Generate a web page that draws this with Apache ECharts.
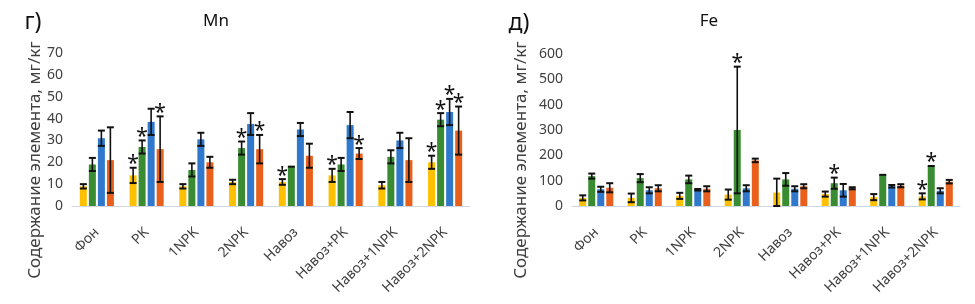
<!DOCTYPE html>
<html>
<head>
<meta charset="utf-8">
<script src="https://cdn.jsdelivr.net/npm/echarts@6/dist/echarts.min.js"></script>
<style>
  html, body { margin: 0; padding: 0; background: #fff; }
  #chart { width: 975px; height: 304px; }
</style>
</head>
<body>
<div id="chart"></div>
<script>
// categories
const categories = ['Фон', 'PK', '1NPK', '2NPK', 'Навоз', 'Навоз+PK', 'Навоз+1NPK', 'Навоз+2NPK'];
const mnTicks = [0, 10, 20, 30, 40, 50, 60, 70];
const feTicks = [0, 100, 200, 300, 400, 500, 600];

// Mn, мг/кг
const mnYellow = [9, 14, 9, 11, 11, 14, 9.5, 20];
const mnYellowErr = [1, 3.5, 1, 1, 1.3, 3, 1.5, 3];
const mnGreen = [19, 27, 16.5, 26.5, 18, 19, 22.5, 39.5];
const mnGreenErr = [3, 3, 3, 3, 0, 3, 3, 3];
const mnBlue = [31, 38.5, 30.5, 37.5, 35, 37, 30, 43];
const mnBlueErr = [3.5, 6, 3, 5, 3, 6, 3.5, 6];
const mnOrange = [21, 26, 20, 26, 23, 24, 21, 34.5];
const mnOrangeErr = [15, 15, 2.5, 6.5, 5.5, 2.5, 10, 11];
const mnYellowStar = [0, 1, 0, 0, 1, 1, 0, 1];
const mnGreenStar = [0, 1, 0, 1, 0, 0, 0, 1];
const mnBlueStar = [0, 0, 0, 0, 0, 0, 0, 1];
const mnOrangeStar = [0, 1, 0, 1, 0, 1, 0, 1];

// Fe, мг/кг
const feYellow = [32, 32, 40, 45, 53, 47, 35, 38];
const feYellowErr = [10, 17, 12, 20, 55, 10, 12, 12];
const feGreen = [118, 110, 105, 300, 105, 90, 123, 158];
const feGreenErr = [10, 16, 15, 250, 25, 22, 0, 0];
const feBlue = [66, 62, 64, 70, 68, 62, 78, 60];
const feBlueErr = [10, 12, 3, 12, 10, 25, 5, 10];
const feOrange = [72, 70, 68, 180, 78, 70, 80, 96];
const feOrangeErr = [18, 12, 10, 7, 8, 4, 6, 7];
const feYellowStar = [0, 0, 0, 0, 0, 0, 0, 1];
const feGreenStar = [0, 0, 0, 1, 0, 1, 0, 1];
const feBlueStar = [0, 0, 0, 0, 0, 0, 0, 0];
const feOrangeStar = [0, 0, 0, 0, 0, 0, 0, 0];

const colors = ['#FFC000', '#3A8C32', '#2F78CC', '#E8601C'];
const FONT = 'Noto Sans';
const BAR_W = 7;
const PITCH = 9;

var dom = document.getElementById('chart');
var myChart = echarts.init(dom, null, { renderer: 'canvas' });

function barSeries(values, idx, axis) {
  return {
    type: 'bar',
    xAxisIndex: axis,
    yAxisIndex: axis,
    barWidth: BAR_W,
    barGap: '29%',
    data: values,
    itemStyle: { color: colors[idx] },
    z: 2
  };
}

// error bars + significance stars, drawn over the bars
function errSeries(values, errs, stars, idx, axis) {
  var offset = (idx - 1.5) * PITCH;
  return {
    type: 'custom',
    xAxisIndex: axis,
    yAxisIndex: axis,
    z: 5,
    encode: { x: 0, y: 1 },
    data: values.map(function (v, i) { return [i, v, errs[i], stars[i]]; }),
    renderItem: function (params, api) {
      var c = api.value(0), v = api.value(1), e = api.value(2), s = api.value(3);
      var x = api.coord([c, v])[0] + offset;
      var yv = api.coord([c, v])[1];
      var yt = api.coord([c, v + e])[1];
      var yb = api.coord([c, Math.max(0, v - e)])[1];
      var st = { stroke: '#111', lineWidth: 2 };
      var kids = [];
      if (e > 0) {
        kids.push({ type: 'line', shape: { x1: x, y1: yt, x2: x, y2: yb }, style: { stroke: '#111', lineWidth: 1.6 } });
        kids.push({ type: 'line', shape: { x1: x - 3.5, y1: yt, x2: x + 3.5, y2: yt }, style: st });
        kids.push({ type: 'line', shape: { x1: x - 3.5, y1: yb, x2: x + 3.5, y2: yb }, style: st });
      } else {
        kids.push({ type: 'line', shape: { x1: x - 3.5, y1: yv, x2: x + 3.5, y2: yv }, style: st });
      }
      if (s) {
        kids.push({
          type: 'text',
          style: {
            text: '*', x: x, y: yt + 7, align: 'center', verticalAlign: 'bottom',
            font: '21px "' + FONT + '"', fill: '#111'
          }
        });
      }
      return { type: 'group', children: kids };
    }
  };
}

function xAxis(grid) {
  return {
    type: 'category',
    gridIndex: grid,
    data: categories,
    axisLine: { lineStyle: { color: '#D0D7E0', width: 1 } },
    axisTick: { show: false },
    axisLabel: { rotate: 45, margin: 24, interval: 0, fontSize: 14, color: '#404040', fontFamily: FONT }
  };
}

function yAxis(grid, ticks) {
  return {
    type: 'value',
    gridIndex: grid,
    min: ticks[0],
    max: ticks[ticks.length - 1],
    interval: ticks[1] - ticks[0],
    splitLine: { show: false },
    axisLine: { show: false },
    axisTick: { show: false },
    axisLabel: { fontSize: 14, color: '#404040', fontFamily: FONT, margin: 9 }
  };
}

var option = {
  backgroundColor: '#ffffff',
  animation: false,
  grid: [
    { left: 72, top: 53, width: 398, height: 153 },
    { left: 572, top: 54, width: 388, height: 152 }
  ],
  xAxis: [xAxis(0), xAxis(1)],
  yAxis: [yAxis(0, mnTicks), yAxis(1, feTicks)],
  graphic: [
    { type: 'text', x: 33, y: 22, style: { text: 'г)', font: '23px "' + FONT + '"', fill: '#111', align: 'center', verticalAlign: 'middle' } },
    { type: 'text', x: 216, y: 21, style: { text: 'Mn', font: '17px "' + FONT + '"', fill: '#111', align: 'center', verticalAlign: 'middle' } },
    { type: 'text', x: 519, y: 23, style: { text: 'д)', font: '23px "' + FONT + '"', fill: '#111', align: 'center', verticalAlign: 'middle' } },
    { type: 'text', x: 709, y: 21, style: { text: 'Fe', font: '17px "' + FONT + '"', fill: '#111', align: 'center', verticalAlign: 'middle' } },
    { type: 'text', x: 35, y: 160, rotation: Math.PI / 2, style: { text: 'Содержание элемента, мг/кг', font: '17px "' + FONT + '"', fill: '#404040', align: 'center', verticalAlign: 'middle' } },
    { type: 'text', x: 521, y: 160, rotation: Math.PI / 2, style: { text: 'Содержание элемента, мг/кг', font: '17px "' + FONT + '"', fill: '#404040', align: 'center', verticalAlign: 'middle' } }
  ],
  series: [
    barSeries(mnYellow, 0, 0),
    barSeries(mnGreen, 1, 0),
    barSeries(mnBlue, 2, 0),
    barSeries(mnOrange, 3, 0),
    barSeries(feYellow, 0, 1),
    barSeries(feGreen, 1, 1),
    barSeries(feBlue, 2, 1),
    barSeries(feOrange, 3, 1),
    errSeries(mnYellow, mnYellowErr, mnYellowStar, 0, 0),
    errSeries(mnGreen, mnGreenErr, mnGreenStar, 1, 0),
    errSeries(mnBlue, mnBlueErr, mnBlueStar, 2, 0),
    errSeries(mnOrange, mnOrangeErr, mnOrangeStar, 3, 0),
    errSeries(feYellow, feYellowErr, feYellowStar, 0, 1),
    errSeries(feGreen, feGreenErr, feGreenStar, 1, 1),
    errSeries(feBlue, feBlueErr, feBlueStar, 2, 1),
    errSeries(feOrange, feOrangeErr, feOrangeStar, 3, 1)
  ]
};

if (option && typeof option === 'object') {
  myChart.setOption(option);
}

window.addEventListener('resize', myChart.resize);
</script>
</body>
</html>
